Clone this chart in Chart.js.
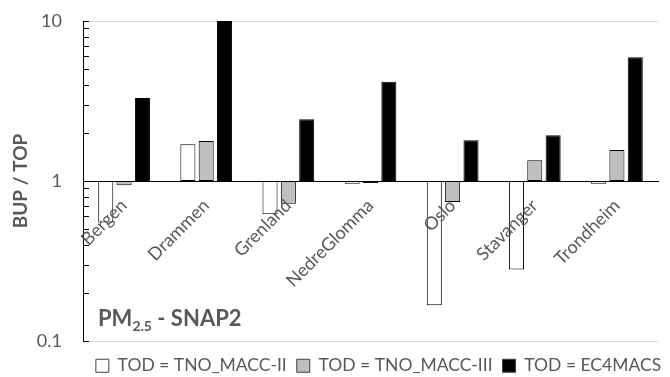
<!DOCTYPE html>
<html>
<head>
<meta charset="utf-8">
<script src="https://cdn.jsdelivr.net/npm/chart.js@4/dist/chart.umd.min.js"></script>
<style>
  html, body { margin: 0; padding: 0; background: #fff; }
  #wrap { width: 670px; height: 377px; }
</style>
</head>
<body>
<div id="wrap"><canvas id="c"></canvas></div>
<script>
// BUP / TOP ratios per city (log axis, bars hang from 1)
const cities = ['Bergen', 'Drammen', 'Grenland', 'NedreGlomma', 'Oslo', 'Stavanger', 'Trondheim'];
const macc2  = [0.55, 1.70, 0.62, 0.96, 0.167, 0.28, 0.96];
const macc3  = [0.94, 1.78, 0.72, 0.97, 0.74, 1.35, 1.56];
const ec4    = [3.3, 10, 2.43, 4.17, 1.80, 1.93, 5.93];
const seriesNames = ['TOD = TNO_MACC-II', 'TOD = TNO_MACC-III', 'TOD = EC4MACS'];
const yTicks  = [0.1,0.2,0.3,0.4,0.5,0.6,0.7,0.8,0.9,1,2,3,4,5,6,7,8,9,10];
const yLabels = [0.1, 1, 10];

const grey = '#595959';
const fam = 'Lato, "Open Sans", sans-serif';
const hang = arr => arr.map(v => [1, v]);   // floating bar from 1 to value

// short tick marks on the inside of the y axis
const innerTicks = {
  id: 'innerTicks',
  afterDraw(chart){
    const y = chart.scales.y, ctx = chart.ctx, x0 = chart.chartArea.left;
    ctx.save();
    ctx.strokeStyle = '#000'; ctx.lineWidth = 1;
    yTicks.forEach(v => {
      const py = Math.round(y.getPixelForValue(v)) + 0.5;
      ctx.beginPath(); ctx.moveTo(x0, py); ctx.lineTo(x0 + 6, py); ctx.stroke();
    });
    ctx.restore();
  }
};

// "PM2.5 - SNAP2" label in lower left of plot
const pmLabel = {
  id: 'pmLabel',
  afterDraw(chart){
    const ctx = chart.ctx, a = chart.chartArea;
    let x = a.left + 15, y = a.bottom - 15;
    ctx.save();
    ctx.fillStyle = grey; ctx.textBaseline = 'alphabetic';
    ctx.font = 'bold 22px ' + fam;
    ctx.fillText('PM', x, y); x += ctx.measureText('PM').width;
    ctx.font = 'bold 14px ' + fam;
    ctx.fillText('2.5', x, y + 5); x += ctx.measureText('2.5').width;
    ctx.font = 'bold 22px ' + fam;
    ctx.fillText(' - SNAP2', x, y);
    ctx.restore();
  }
};

// centre the legend under the plot area, and drop it near the bottom edge
const legendShift = {
  id: 'legendShift',
  afterLayout(chart){
    const a = chart.chartArea, lg = chart.legend;
    const dx = (a.left + a.right) / 2 - (lg.left + lg.right) / 2 + 8;
    const dy = chart.height - 12 - (lg.top + lg.bottom) / 2;
    lg.left += dx; lg.right += dx;
    lg.top += dy; lg.bottom += dy;
  }
};

new Chart(document.getElementById('c'), {
  type: 'bar',
  data: {
    labels: cities,
    datasets: [
      { label: seriesNames[0], data: hang(macc2), backgroundColor: '#ffffff', borderColor: '#000' },
      { label: seriesNames[1], data: hang(macc3), backgroundColor: '#bfbfbf', borderColor: '#000' },
      { label: seriesNames[2], data: hang(ec4),   backgroundColor: '#000000', borderColor: '#000' }
    ]
  },
  options: {
    responsive: true,
    maintainAspectRatio: false,
    animation: false,
    layout: { padding: { top: 21, right: 12, left: 0, bottom: 0 } },
    datasets: { bar: { borderWidth: 1, borderSkipped: false, barPercentage: 0.82, categoryPercentage: 0.67 } },
    plugins: {
      tooltip: { enabled: false },
      legend: {
        position: 'bottom',
        maxHeight: 36,
        labels: { font: { family: fam, size: 17.5 }, color: grey, boxWidth: 13, boxHeight: 13, padding: 10,
          generateLabels(chart){
            return chart.data.datasets.map((ds, i) => ({
              text: ds.label, fillStyle: ds.backgroundColor, strokeStyle: '#404040',
              lineWidth: 1, fontColor: grey, datasetIndex: i, hidden: false
            }));
          } }
      }
    },
    scales: {
      x: {
        position: { y: 1 },
        afterFit(s){ s.height = 0; },
        grid: { display: false },
        border: { display: true, color: '#000', width: 1 },
        ticks: { z: 1,   // city names sit on top of the bars, as in the original
          autoSkip: false, maxRotation: 45, minRotation: 45, padding: 6,
          font: { family: fam, size: 18 }, color: grey }
      },
      y: {
        type: 'logarithmic',
        min: 0.1, max: 10,
        afterFit(s){ s.width = 83; s.paddingTop = 0; s.paddingBottom = 0; },
        afterBuildTicks(s){ s.ticks = yTicks.map(v => ({ value: v })); },
        grid: {
          drawTicks: false,
          color: c => (c.tick && (c.tick.value === 10 || c.tick.value === 0.1)) ? '#d9d9d9' : 'rgba(0,0,0,0)'
        },
        border: { display: true, color: '#000', width: 1 },
        ticks: { autoSkip: false, padding: 21, font: { family: fam, size: 18 }, color: grey,
          callback: v => yLabels.includes(v) ? String(v) : '' },
        title: { display: true, text: 'BUP / TOP', color: grey, padding: { top: 9, bottom: 0 },
          font: { family: fam, size: 19, weight: 'bold' } }
      }
    }
  },
  plugins: [innerTicks, pmLabel, legendShift]
});
</script>
</body>
</html>
